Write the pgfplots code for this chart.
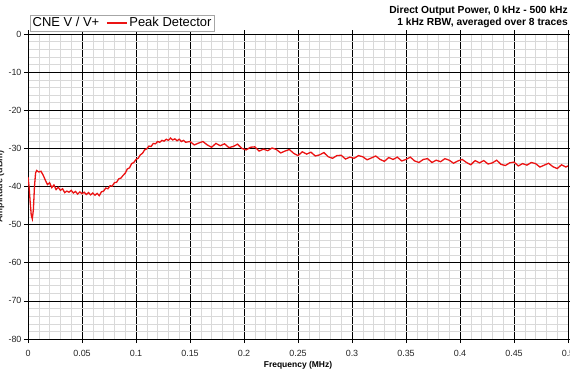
\documentclass[border=0pt]{standalone}
\usepackage{fontspec}
\setmainfont{Liberation Sans}
\usepackage{pgfplots}
\pgfplotsset{compat=1.18}
\definecolor{tracered}{RGB}{235,20,20}
\begin{document}
\begin{tikzpicture}
\begin{axis}[name=ax, scale only axis, width=540bp, height=305bp,
 xmin=0, xmax=0.5, ymin=-80, ymax=0,
 xtick={0,0.05,0.1,0.15,0.2,0.25,0.3,0.35,0.4,0.45,0.5},
 xticklabels={0,0.05,0.1,0.15,0.2,0.25,0.3,0.35,0.4,0.45,0.5},
 ytick={-80,-70,-60,-50,-40,-30,-20,-10,0},
 yticklabels={-80,-70,-60,-50,-40,-30,-20,-10,0},
 minor x tick num=4, minor y tick num=4,
 grid=both,
 major grid style={black, line width=0.7bp},
 minor grid style={gray!30, line width=0.5bp},
 axis line style={black, line width=1bp},
 tick align=outside, major tick length=4bp, minor tick length=0pt,
 tick style={black, line width=0.6bp},
 ticklabel style={font=\fontsize{9}{10}\selectfont, text=black!85},
 yticklabel style={xshift=1bp},
 xticklabel style={yshift=-4bp},
 xlabel={Frequency (MHz)},
 xlabel style={font=\bfseries\fontsize{8.5}{10}\selectfont, yshift=2bp},
 legend columns=2, legend cell align=left,
 legend style={at={(0,1)}, anchor=south west, xshift=2bp, yshift=3bp,
   draw=gray!70, font=\fontsize{13}{13}\selectfont, inner sep=0.5bp,
   /tikz/every even column/.append style={column sep=5bp}},
 legend image code/.code={\draw[#1] (0cm,0cm) -- (0.7cm,0cm);},
]
\addlegendimage{empty legend}
\addlegendentry{CNE V / V+}
\addplot[tracered, line width=1.3bp] coordinates {
(0.000,-37.5) (0.001,-40) (0.002,-44) (0.003,-47.5) (0.004,-48.5) (0.005,-46)
(0.006,-40) (0.007,-36.5) (0.008,-35.8) (0.010,-36.2) (0.012,-36.0) (0.014,-37.0)
(0.016,-38.3) (0.018,-39.5) (0.020,-39.0) (0.022,-40.3) (0.024,-39.6) (0.026,-40.8)
(0.028,-40.2) (0.030,-41.0) (0.032,-40.6) (0.034,-41.6) (0.036,-41.2) (0.038,-41.5)
(0.040,-41.0) (0.042,-41.7) (0.044,-41.3) (0.046,-42.0) (0.048,-41.4) (0.050,-41.9)
(0.052,-41.5) (0.054,-42.1) (0.056,-41.6) (0.058,-42.2) (0.060,-41.7) (0.062,-42.3)
(0.064,-41.8) (0.066,-42.4) (0.068,-41.4) (0.070,-41.2) (0.072,-40.4) (0.074,-40.6)
(0.076,-39.8) (0.078,-39.9) (0.080,-39.0) (0.082,-38.9) (0.084,-38.0) (0.086,-37.8)
(0.088,-37.1) (0.090,-36.5) (0.092,-35.4) (0.094,-35.1) (0.096,-34.0) (0.098,-33.7)
(0.100,-32.9) (0.102,-32.6) (0.104,-31.7) (0.106,-31.3) (0.108,-30.4) (0.110,-30.1)
(0.112,-29.4) (0.114,-29.5) (0.116,-28.7) (0.118,-28.8) (0.120,-28.2) (0.122,-28.4)
(0.124,-27.9) (0.126,-28.1) (0.128,-27.6) (0.130,-27.9) (0.132,-27.3) (0.134,-27.8)
(0.136,-27.5) (0.138,-28.0) (0.140,-27.6) (0.142,-28.2) (0.144,-27.9) (0.146,-28.4)
(0.150,-28.2) (0.154,-29.1) (0.158,-28.6) (0.162,-28.2) (0.166,-29.1) (0.170,-29.7)
(0.174,-28.7) (0.178,-29.3) (0.182,-28.8) (0.186,-29.8) (0.190,-29.5) (0.194,-28.9)
(0.198,-30.0) (0.202,-30.4) (0.206,-29.7) (0.210,-29.6) (0.214,-30.7) (0.218,-30.2)
(0.222,-30.6) (0.226,-29.9) (0.230,-30.3) (0.234,-31.2) (0.238,-30.7) (0.242,-30.3)
(0.246,-31.3) (0.250,-31.9) (0.254,-30.9) (0.258,-31.5) (0.262,-31.0) (0.266,-32.0)
(0.270,-31.7) (0.274,-31.1) (0.278,-32.2) (0.282,-32.6) (0.286,-31.9) (0.290,-31.8)
(0.294,-32.8) (0.298,-32.3) (0.302,-32.6) (0.306,-31.9) (0.310,-32.2) (0.314,-33.0)
(0.318,-32.5) (0.322,-32.0) (0.326,-32.9) (0.330,-33.4) (0.334,-32.4) (0.338,-32.9)
(0.342,-32.3) (0.346,-33.3) (0.350,-32.9) (0.354,-32.3) (0.358,-33.3) (0.362,-33.7)
(0.366,-32.9) (0.370,-32.7) (0.374,-33.7) (0.378,-33.1) (0.382,-33.5) (0.386,-32.7)
(0.390,-33.1) (0.394,-33.9) (0.398,-33.3) (0.402,-32.9) (0.406,-33.7) (0.410,-34.3)
(0.414,-33.2) (0.418,-33.8) (0.422,-33.2) (0.426,-34.1) (0.430,-33.8) (0.434,-33.1)
(0.438,-34.2) (0.442,-34.5) (0.446,-33.8) (0.450,-33.6) (0.454,-34.6) (0.458,-34.0)
(0.462,-34.4) (0.466,-33.7) (0.470,-34.0) (0.474,-34.9) (0.478,-34.4) (0.482,-33.9)
(0.486,-34.8) (0.490,-35.3) (0.494,-34.3) (0.498,-34.9) (0.500,-34.6)
};
\addlegendentry{Peak Detector}
\end{axis}
\node[anchor=south east, align=right, font=\bfseries\fontsize{10.3}{12.5}\selectfont, inner sep=0pt]
  at ([yshift=6bp]ax.north east) {Direct Output Power, 0 kHz - 500 kHz\\1 kHz RBW, averaged over 8 traces};
\node[rotate=90, font=\bfseries\fontsize{9}{10}\selectfont, text=black!85]
  at ([xshift=-28bp]ax.west) {Amplitude (dBm)};
\pgfresetboundingbox
\useasboundingbox ([xshift=-28bp, yshift=-41bp]ax.south west) rectangle ([xshift=2bp, yshift=34bp]ax.north east);
\end{tikzpicture}
\end{document}
